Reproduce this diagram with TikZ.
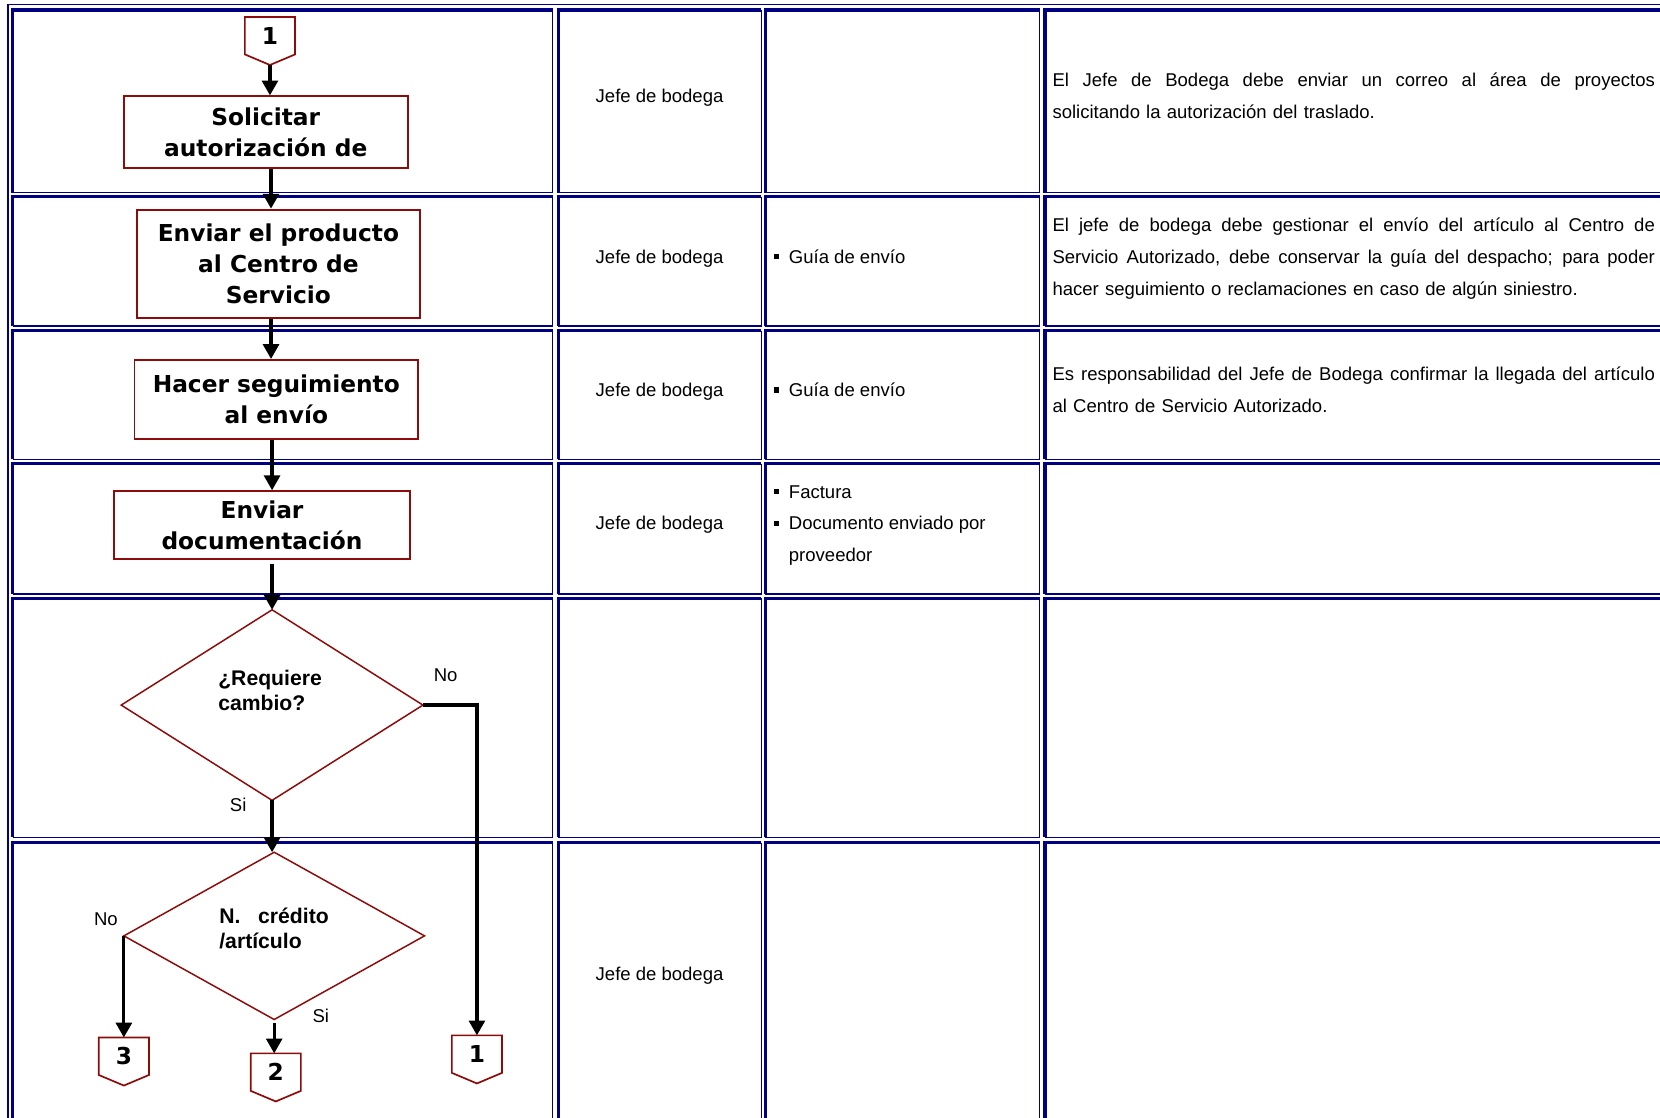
\documentclass[tikz,border=0pt]{standalone}
\usepackage{fontspec}
\setmainfont{Liberation Sans}
\newfontfamily\vfont{DejaVu Sans}
\usetikzlibrary{arrows.meta,shapes.geometric}
\newcommand\sqb{\rule[3.5pt]{5pt}{5pt}\hspace{9pt}}
\newcommand\fullline[1]{\makebox[569pt][s]{\spaceskip=0.278em plus 1fil\relax\xspaceskip=0.278em plus 1fil\relax #1}}
\tikzset{
  cellthick/.style={draw=navyblue, line width=3pt},
  cellthin/.style={draw=navyblue, line width=1.2pt},
  proc/.style={draw=boxred, line width=1.8pt, minimum width=268pt, align=center, inner sep=0pt, font=\vfont\bfseries\fontsize{22}{29.5}\selectfont},
  decision/.style={diamond, draw=boxred, line width=1.4pt, inner sep=0pt, outer sep=0pt},
  dectext/.style={anchor=base west, align=left, inner sep=0pt, font=\bfseries\fontsize{20}{23.5}\selectfont},
  conn/.style={minimum width=47pt, minimum height=35pt, inner sep=0pt, anchor=north, font=\vfont\bfseries\fontsize{22}{26}\selectfont},
  connline/.style={draw=boxred, line width=1.6pt},
  flow/.style={draw=black, line width=3pt, -{Triangle[length=14pt,width=15pt]}},
  cell/.style={anchor=base, inner sep=0pt, font=\fontsize{17.5}{30.5}\selectfont},
  list/.style={anchor=base west, align=left, inner sep=0pt, font=\fontsize{17.5}{30}\selectfont},
  remark/.style={anchor=base west, text width=569pt, inner sep=0pt, font=\fontsize{17.5}{30.5}\selectfont},
  edgelbl/.style={inner sep=0pt, font=\fontsize{17.5}{20}\selectfont}
}
\begin{document}
\begin{tikzpicture}[x=1pt,y=-1pt]
\definecolor{navyblue}{RGB}{0,0,128}
\definecolor{boxred}{RGB}{140,12,12}
\fill[white] (0,0) rectangle (1568,1056);
\useasboundingbox (0,0) rectangle (1568,1056);
\clip (0,0) rectangle (1568,1056);
% table
\draw[cellthin] (7.5,1100) -- (7.5,4.5) -- (1600,4.5);
\foreach \ya/\yb in {9.5/182, 186/308, 312.5/434, 438/561, 565/791, 796/1100}
  \foreach \xa/\xb in {12/522, 527.5/719, 723/982, 987/1600} {
    \draw[cellthick] (\xa,\yb) -- (\xa,\ya) -- (\xb,\ya);
    \draw[cellthin] (\xb,\ya) -- (\xb,\yb) -- (\xa,\yb);
  }
% responsible
\foreach \y [count=\i] in {96.5, 248.5, 374.5, 500.5, 926.5}
  \node[cell] (resp\i) at (623,\y) {Jefe de bodega};
% documents
\node[list] (doc2) at (731,248.5) {\sqb Guía de envío};
\node[list] (doc3) at (731,374.5) {\sqb Guía de envío};
\node[list] (doc4) at (731,530.5) {\sqb Factura\\\sqb Documento enviado por\\\hspace*{14pt}proveedor};
% remarks
\node[remark] (rem1) at (994,81.5) {\fullline{El Jefe de Bodega debe enviar un correo al área de proyectos}\\solicitando la autorización del traslado.};
\node[remark] (rem2) at (994,218.5) {\fullline{El jefe de bodega debe gestionar el envío del artículo al Centro de}\\\fullline{Servicio Autorizado, debe conservar la guía del despacho; para poder}\\hacer seguimiento o reclamaciones en caso de algún siniestro.};
\node[remark] (rem3) at (994,359.5) {\fullline{Es responsabilidad del Jefe de Bodega confirmar la llegada del artículo}\\al Centro de Servicio Autorizado.};
% flowchart
\coordinate (spine) at (256,0);
\node[proc, minimum height=68pt] (solicitar) at (251,125) {Solicitar\\autorización de};
\node[proc, minimum height=102pt] (producto) at (263,249) {Enviar el producto\\al Centro de\\Servicio};
\node[proc, minimum height=75pt] (seguimiento) at (261,377.5) {Hacer seguimiento\\al envío};
\node[proc, minimum width=279pt, minimum height=64pt] (documentacion) at (247.5,496) {Enviar\\documentación};
\node[decision, minimum width=285pt, minimum height=180pt] (dec1) at (257,666) {};
\node[dectext] (dec1txt) at (206,671) {¿Requiere\\cambio?};
\node[decision, minimum width=284pt, minimum height=158pt] (dec2) at (259,884) {};
\node[dectext] (dec2txt) at (207,896) {N.~~~crédito\\/artículo};
\foreach \n/\x/\y/\t in {in1/255/16/1, out1/450.5/978/1, out2/260.5/995/2, out3/117/980/3} {
  \node[conn] (\n) at (\x,\y) {\t};
  \draw[connline] (\n.north west) -- (\n.north east) -- (\n.south east) -- ([yshift=-10pt]\n.south) -- (\n.south west) -- cycle;
}
\node[edgelbl] (noA) at (421,638) {No};
\node[edgelbl] (siA) at (225,760) {Si};
\node[edgelbl] (noB) at (100,868) {No};
\node[edgelbl] (siB) at (303,960) {Si};
\draw[flow] ([yshift=-10pt]in1.south) -- (in1.south |- solicitar.north);
\draw[flow] (solicitar.south -| spine) -- (producto.north -| spine);
\draw[flow] (producto.south -| spine) -- (seguimiento.north -| spine);
\draw[flow] (seguimiento.south -| dec1.north) -- (documentacion.north -| dec1.north);
\draw[flow, shorten <=4pt] (documentacion.south -| dec1.north) -- (dec1.north);
\draw[flow] (dec1.south) -- (dec1.south |- dec2.north);
\draw[flow] (dec1.east) -| (out1.north);
\draw[flow] (dec2.west) -- (dec2.west |- out3.north);
\draw[flow, shorten <=3pt] (dec2.south) -- (dec2.south |- out2.north);
\end{tikzpicture}
\end{document}
